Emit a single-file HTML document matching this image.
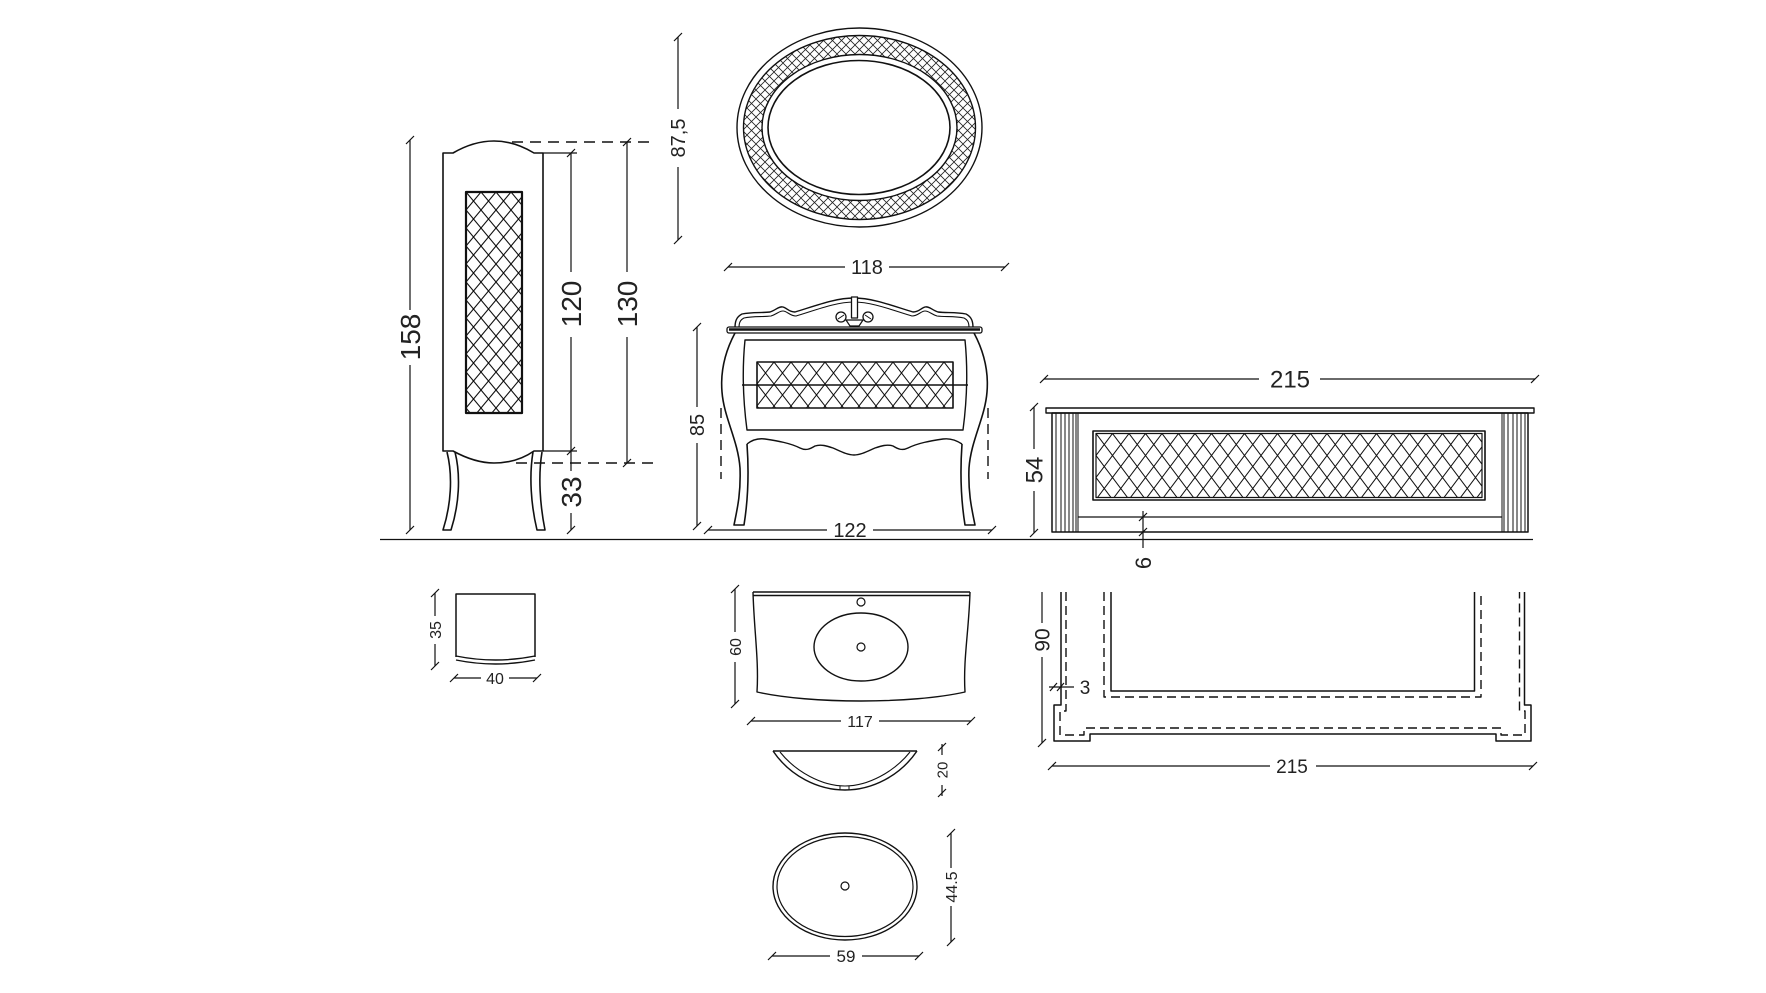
<!DOCTYPE html>
<html>
<head>
<meta charset="utf-8">
<style>
html,body{margin:0;padding:0;background:#fff;}
svg{display:block;}
text{font-family:"Liberation Sans",sans-serif;fill:#222;}
</style>
</head>
<body>
<svg width="1766" height="993" viewBox="0 0 1766 993" xmlns="http://www.w3.org/2000/svg">
<defs>
  <pattern id="patCol" patternUnits="userSpaceOnUse" x="466" y="192" width="15" height="18">
    <path d="M0,0 L15,18 M15,0 L0,18" stroke="#111" stroke-width="1.1" fill="none"/>
  </pattern>
  <pattern id="patVan" patternUnits="userSpaceOnUse" x="757" y="362" width="17" height="22">
    <path d="M0,0 L17,22 M17,0 L0,22" stroke="#111" stroke-width="1" fill="none"/>
  </pattern>
  <pattern id="patCab" patternUnits="userSpaceOnUse" x="1096" y="433.5" width="16.5" height="22">
    <path d="M0,0 L16.5,22 M16.5,0 L0,22" stroke="#111" stroke-width="1" fill="none"/>
  </pattern>
  <pattern id="patMir" patternUnits="userSpaceOnUse" x="0" y="0" width="9" height="9">
    <path d="M0,0 L9,9 M9,0 L0,9" stroke="#222" stroke-width="0.8" fill="none"/>
  </pattern>
</defs>
<rect x="0" y="0" width="1766" height="993" fill="#fff"/>

<g fill="none" stroke="#111" stroke-width="1.6" stroke-linejoin="round">
  <!-- ground line -->
  <line x1="380" y1="539.5" x2="1533" y2="539.5" stroke-width="1.3"/>

  <!-- ============ TALL COLUMN ============ -->
  <path d="M443,153 L453,153 C465,146 478,141 494,141 C511,141 524,147 534,153 L543,153 L543,451 L534,451 C524,458 511,463 494,463 C478,463 464,457 453,451 L443,451 Z"/>
  <rect x="466" y="192" width="56" height="221" fill="url(#patCol)" stroke-width="2.2"/>
  <path d="M447,452 C453,476 451,505 443,530 L451,530 C459,505 461,476 455,452"/>
  <path d="M533,452 C529,476 531,505 537,530 L545,530 C540,505 538,476 542,452"/>
  <!-- extension lines -->
  <line x1="543" y1="153" x2="577" y2="153" stroke-width="1.3"/>
  <line x1="543" y1="451" x2="577" y2="451" stroke-width="1.3"/>
  <line x1="512" y1="142" x2="654" y2="142" stroke-width="1.4" stroke-dasharray="11,7"/>
  <line x1="516" y1="463" x2="654" y2="463" stroke-width="1.4" stroke-dasharray="11,7"/>

  <!-- ============ MIRROR ============ -->
  <path fill="url(#patMir)" fill-rule="evenodd" stroke="none"
    d="M743.5,127.5 a116,92 0 1,0 232,0 a116,92 0 1,0 -232,0 Z M762,127.5 a97.5,73 0 1,0 195,0 a97.5,73 0 1,0 -195,0 Z"/>
  <ellipse cx="859.5" cy="127.5" rx="122.5" ry="99.5" stroke-width="1.4"/>
  <ellipse cx="859.5" cy="127.5" rx="116" ry="92" stroke-width="1.4"/>
  <ellipse cx="859.5" cy="127.5" rx="97.5" ry="73" stroke-width="1.4"/>
  <ellipse cx="859" cy="127.5" rx="91" ry="67" stroke-width="1.6"/>

  <!-- ============ VANITY ============ -->
  <path d="M735,328 C735,322 736,317 742,314 C752,312 762,313 770,312 C776,310 779,306 783,307 C787,308 789,312 795,312 C815,306 835,298 854,298 C873,298 893,306 913,312 C919,312 921,308 925,307 C929,306 932,310 938,312 C946,313 956,312 966,314 C972,317 973,322 973,328" stroke-width="1.4"/>
  <path d="M739,328 C739,323 740,320 744,318 C753,316 763,317 771,316 C777,314 779,311 783,311 C787,311 790,316 796,316 C816,310 836,302 854,302 C872,302 892,310 912,316 C918,316 921,311 925,311 C929,311 931,314 937,316 C945,317 955,316 964,318 C968,320 969,323 969,328" stroke-width="1.1"/>
  <rect x="851.5" y="297" width="6" height="21" fill="#fff" stroke-width="1.3"/>
  <circle cx="841" cy="317" r="5" fill="#fff" stroke-width="1.3"/>
  <circle cx="868" cy="317" r="5" fill="#fff" stroke-width="1.3"/>
  <line x1="838" y1="319" x2="844" y2="315" stroke-width="1"/>
  <line x1="865" y1="315" x2="871" y2="319" stroke-width="1"/>
  <path d="M846,320 L863,320 L859,326 L850,326 Z" fill="#fff" stroke-width="1.2"/>
  <rect x="727" y="327" width="255" height="6" rx="2" fill="#fff" stroke-width="1.3"/>
  <line x1="729" y1="329.5" x2="980" y2="329.5" stroke-width="2.6"/>
  <path d="M735,333 C727,348 720,368 722,392 C724,418 738,440 740,468 C741,494 737,510 734,525 L744,525 C748,500 749,472 747,444"/>
  <path d="M974,333 C982,348 989,368 987,392 C985,418 971,440 969,468 C968,494 972,510 975,525 L965,525 C961,500 960,472 962,444"/>
  <path d="M747,444 C752,440 758,438 765,439 C778,441 790,443 800,448 C806,451 810,449 815,446 C821,444 827,446 833,448 C840,451 847,455 854,455 C861,455 868,451 875,448 C881,446 887,444 893,446 C898,449 902,451 908,448 C918,443 930,441 943,439 C950,438 956,440 962,444" stroke-width="1.4"/>
  <path d="M745,340 L965,340 C968,370 967,400 963,430 L747,430 C743,400 742,370 745,340 Z" stroke-width="1.4"/>
  <rect x="757" y="362" width="196" height="46" fill="url(#patVan)" stroke-width="1.6"/>
  <line x1="742" y1="385" x2="968" y2="385" stroke-width="1.6"/>
  <line x1="721" y1="408" x2="721" y2="479" stroke-width="1.4" stroke-dasharray="10,6"/>
  <line x1="988" y1="408" x2="988" y2="479" stroke-width="1.4" stroke-dasharray="10,6"/>

  <!-- ============ RIGHT CABINET ============ -->
  <rect x="1046" y="408" width="488" height="5" stroke-width="1.4"/>
  <rect x="1052" y="413" width="476" height="119" stroke-width="1.5"/>
  <path d="M1056,413 V532 M1061,413 V532 M1065,413 V532 M1069,413 V532 M1073,413 V532 M1076,413 V532 M1078,413 V532" stroke-width="1"/>
  <path d="M1502,413 V532 M1504,413 V532 M1508,413 V532 M1513,413 V532 M1517,413 V532 M1521,413 V532 M1525,413 V532" stroke-width="1"/>
  <line x1="1078" y1="517" x2="1502" y2="517" stroke-width="1.3"/>
  <rect x="1093" y="431" width="392" height="69" stroke-width="1.6"/>
  <rect x="1096" y="433.5" width="386" height="64" fill="url(#patCab)" stroke-width="1.2"/>

  <!-- ============ PLAN VIEW ============ -->
  <path d="M1061,592 L1061,705 L1054,705 L1054,741 L1090,741 L1090,734 L1496,734 L1496,741 L1531,741 L1531,705 L1524.5,705 L1524.5,592" stroke-width="1.5"/>
  <path d="M1066,592 L1066,711 L1060,711 L1060,735 L1084,735 L1084,728 L1501,728 L1501,735 L1525,735 L1525,711 L1519.5,711 L1519.5,592" stroke-width="1.4" stroke-dasharray="9,5"/>
  <path d="M1111,592 L1111,691 L1474.5,691 L1474.5,592" stroke-width="1.5"/>
  <path d="M1104,592 L1104,697 L1481,697 L1481,592" stroke-width="1.4" stroke-dasharray="9,5"/>

  <!-- ============ SMALL BOX (plan) ============ -->
  <path d="M456,657 L456,594 L535,594 L535,657" stroke-width="1.5"/>
  <path d="M456,656 Q495.5,664 535,656" stroke-width="1.4"/>
  <path d="M456,660 Q495.5,668 535,660" stroke-width="1.4"/>

  <!-- ============ COUNTERTOP (plan) ============ -->
  <line x1="753" y1="592" x2="970" y2="592" stroke-width="1.4"/>
  <line x1="753" y1="595.5" x2="970" y2="595.5" stroke-width="1.4"/>
  <path d="M753,592 C754,630 759,660 757,692 C810,704 912,704 965,692 C963,660 969,630 970,592" stroke-width="1.4"/>
  <circle cx="861" cy="602" r="4" stroke-width="1.2"/>
  <ellipse cx="861" cy="647" rx="47" ry="34" stroke-width="1.4"/>
  <circle cx="861" cy="647" r="4" stroke-width="1.2"/>

  <!-- ============ BOWL SIDE ============ -->
  <line x1="773" y1="751" x2="917" y2="751" stroke-width="1.5"/>
  <path d="M773,751 C790,776 818,790 845,790 C872,790 900,776 917,751" stroke-width="1.4"/>
  <path d="M780,752 C796,772 822,786 845,786 C868,786 894,772 910,752" stroke-width="1.1"/>
  <path d="M840,786 V790 M849,786 V790" stroke-width="1"/>

  <!-- ============ OVAL BASIN ============ -->
  <ellipse cx="845" cy="886.5" rx="72" ry="53.5" stroke-width="1.4"/>
  <ellipse cx="845" cy="886.5" rx="68" ry="50" stroke-width="1.2"/>
  <circle cx="845" cy="886" r="4" stroke-width="1.2"/>
</g>

<!-- ============ DIMENSION LINES ============ -->
<g fill="none" stroke="#111" stroke-width="1.2">
  <!-- 158 -->
  <path d="M410,140 V310 M410,365 V530"/>
  <path d="M406,144 L414,136 M406,534 L414,526"/>
  <!-- 120 -->
  <path d="M571,153 V272 M571,337 V451"/>
  <path d="M567,157 L575,149 M567,455 L575,447"/>
  <!-- 130 -->
  <path d="M627,142 V272 M627,337 V463"/>
  <path d="M623,146 L631,138 M623,467 L631,459"/>
  <!-- 33 -->
  <path d="M571,451 V471 M571,513 V530"/>
  <path d="M567,534 L575,526"/>
  <!-- 87,5 -->
  <path d="M678,37 V109 M678,167 V240"/>
  <path d="M674,41 L682,33 M674,244 L682,236"/>
  <!-- 85 -->
  <path d="M697,327 V407 M697,443 V526"/>
  <path d="M693,331 L701,323 M693,530 L701,522"/>
  <!-- 54 -->
  <path d="M1034,407 V449 M1034,491 V533"/>
  <path d="M1030,411 L1038,403 M1030,537 L1038,529"/>
  <!-- 6 -->
  <path d="M1143,511 V548"/>
  <path d="M1139,521 L1147,513 M1139,536 L1147,528"/>
  <!-- 90 -->
  <path d="M1042,592 V623 M1042,657 V743"/>
  <path d="M1038,747 L1046,739"/>
  <!-- 35 -->
  <path d="M435,593 V616 M435,644 V666"/>
  <path d="M431,597 L439,589 M431,670 L439,662"/>
  <!-- 60 -->
  <path d="M735,589 V632 M735,662 V704"/>
  <path d="M731,593 L739,585 M731,708 L739,700"/>
  <!-- 20 -->
  <path d="M942,744 V755 M942,785 V796"/>
  <path d="M938,751 L946,743 M938,797 L946,789"/>
  <!-- 44.5 -->
  <path d="M951,833 V868 M951,906 V942"/>
  <path d="M947,837 L955,829 M947,946 L955,938"/>

  <!-- 118 -->
  <path d="M728,267 H845 M889,267 H1005"/>
  <path d="M724,271 L732,263 M1001,271 L1009,263"/>
  <!-- 122 -->
  <path d="M708,530 H827 M873,530 H992"/>
  <path d="M704,534 L712,526 M988,534 L996,526"/>
  <!-- 215 top -->
  <path d="M1044,379 H1259 M1320,379 H1535"/>
  <path d="M1040,383 L1048,375 M1531,383 L1539,375"/>
  <!-- 215 bottom -->
  <path d="M1052,766 H1270 M1316,766 H1533"/>
  <path d="M1048,770 L1056,762 M1529,770 L1537,762"/>
  <!-- 40 -->
  <path d="M454,678 H481 M509,678 H537"/>
  <path d="M450,682 L458,674 M533,682 L541,674"/>
  <!-- 117 -->
  <path d="M751,721 H841 M879,721 H971"/>
  <path d="M747,725 L755,717 M967,725 L975,717"/>
  <!-- 59 -->
  <path d="M772,956 H830 M862,956 H919"/>
  <path d="M768,960 L776,952 M915,960 L923,952"/>
  <!-- 3 -->
  <path d="M1049,687 H1074"/>
  <path d="M1050,691 L1057,683 M1057,691 L1064,683"/>
</g>

<!-- ============ DIMENSION TEXT ============ -->
<g text-anchor="middle">
  <text transform="translate(410,337) rotate(-90)" x="0" y="10" font-size="28">158</text>
  <text transform="translate(571,304) rotate(-90)" x="0" y="10" font-size="28">120</text>
  <text transform="translate(627,304) rotate(-90)" x="0" y="10" font-size="28">130</text>
  <text transform="translate(571,492) rotate(-90)" x="0" y="10" font-size="28">33</text>
  <text transform="translate(678,138) rotate(-90)" x="0" y="7" font-size="20">87,5</text>
  <text transform="translate(697,425) rotate(-90)" x="0" y="7" font-size="20">85</text>
  <text transform="translate(1034,470) rotate(-90)" x="0" y="8.5" font-size="24">54</text>
  <text transform="translate(1143,563) rotate(-90)" x="0" y="8" font-size="22">6</text>
  <text transform="translate(1042,640) rotate(-90)" x="0" y="7.5" font-size="21">90</text>
  <text transform="translate(435,630) rotate(-90)" x="0" y="6" font-size="16">35</text>
  <text transform="translate(735,647) rotate(-90)" x="0" y="6" font-size="16">60</text>
  <text transform="translate(942,770) rotate(-90)" x="0" y="5.5" font-size="15">20</text>
  <text transform="translate(951,887) rotate(-90)" x="0" y="6" font-size="16">44.5</text>

  <text x="867" y="274" font-size="20">118</text>
  <text x="850" y="537" font-size="20">122</text>
  <text x="1290" y="387.5" font-size="24">215</text>
  <text x="1292" y="773" font-size="19">215</text>
  <text x="495" y="684" font-size="16">40</text>
  <text x="860" y="727" font-size="16">117</text>
  <text x="846" y="962" font-size="17">59</text>
  <text x="1085" y="694" font-size="19">3</text>
</g>
</svg>
</body>
</html>
